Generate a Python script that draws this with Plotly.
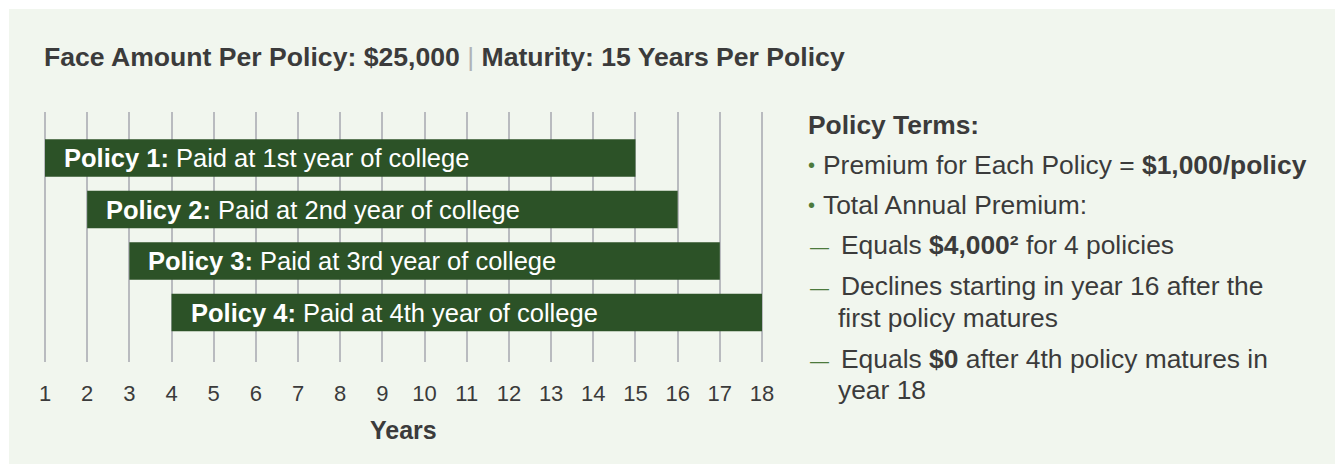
import plotly.graph_objects as go

W, H = 1335, 464

# ---- data ----
policies = ["Policy 1:", "Policy 2:", "Policy 3:", "Policy 4:"]
policy_desc = ["Paid at 1st year of college", "Paid at 2nd year of college",
               "Paid at 3rd year of college", "Paid at 4th year of college"]
start_year = [1, 2, 3, 4]
end_year = [15, 16, 17, 18]
year_ticks = list(range(1, 19))
title_left = "Face Amount Per Policy: $25,000"
title_right = "Maturity: 15 Years Per Policy"
x_title = "Years"
terms_heading = "Policy Terms:"
terms_lines = [
    ("•", "Premium for Each Policy = <b>$1,000/policy</b>"),
    ("•", "Total Annual Premium:"),
    ("—", "Equals <b>$4,000²</b> for 4 policies"),
    ("—", "Declines starting in year 16 after the"),
    ("", "first policy matures"),
    ("—", "Equals <b>$0</b> after 4th policy matures in"),
    ("", "year 18"),
]

# ---- style ----
PANEL = "#f1f6ee"
BAR = "#2c5227"
GRID = "#b9bbbf"
TXT = "#3b3b3b"
ACCENT = "#4c7a3c"
FONT = "Liberation Sans, Arial, Helvetica, sans-serif"


def fx(p):
    return p / W


def fy(p):
    return 1 - p / H


# axis geometry (pixels)
x1_px, x18_px = 45, 762
unit = (x18_px - x1_px) / 17
xr = [0.5, 18.5]
dom_x = [fx(x1_px - 0.5 * unit), fx(x18_px + 0.5 * unit)]
grid_top, grid_bot = 112, 362

fig = go.Figure()
fig.add_trace(go.Bar(
    y=[1, 2, 3, 4],
    x=[e - s for s, e in zip(start_year, end_year)],
    base=start_year,
    orientation="h",
    marker=dict(color=BAR, line=dict(width=0)),
    width=0.73,
    hoverinfo="skip",
    showlegend=False,
))

annotations = []
for i, (p, d, s) in enumerate(zip(policies, policy_desc, start_year)):
    annotations.append(dict(
        x=s, y=i + 1, xref="x", yref="y", xanchor="left", yanchor="middle",
        xshift=17, yshift=0, text=f"<b>{p}</b> {d}", showarrow=False,
        font=dict(family=FONT, size=25.5, color="white"),
    ))

# title
annotations.append(dict(
    x=fx(42), y=fy(57), xref="paper", yref="paper", xanchor="left", yanchor="middle",
    text=f"<b>{title_left}</b> <span style='color:#b0b3b6'>|</span> <b>{title_right}</b>",
    showarrow=False, font=dict(family=FONT, size=26.6, color=TXT),
))

# policy terms
annotations.append(dict(
    x=fx(806), y=fy(125), xref="paper", yref="paper", xanchor="left", yanchor="middle",
    text=f"<b>{terms_heading}</b>", showarrow=False,
    font=dict(family=FONT, size=26.4, color=TXT),
))
line_y = [165, 205, 245, 286, 318, 359, 390]
for (mark, txt), yy in zip(terms_lines, line_y):
    if mark == "•":
        annotations.append(dict(
            x=fx(806), y=fy(yy), xref="paper", yref="paper", xanchor="left", yanchor="middle",
            text=mark, showarrow=False, font=dict(family=FONT, size=20, color=ACCENT)))
        tx = 821
    elif mark == "—":
        annotations.append(dict(
            x=fx(808), y=fy(yy + 1), xref="paper", yref="paper", xanchor="left", yanchor="middle",
            text=mark, showarrow=False, font=dict(family=FONT, size=19, color=ACCENT)))
        tx = 839
    else:
        tx = 836
    annotations.append(dict(
        x=fx(tx), y=fy(yy), xref="paper", yref="paper", xanchor="left", yanchor="middle",
        text=txt, showarrow=False, font=dict(family=FONT, size=26.4, color=TXT)))

# x title
annotations.append(dict(
    x=(x1_px + x18_px) / 2 / W, y=fy(430), xref="paper", yref="paper",
    xanchor="center", yanchor="middle", text=f"<b>{x_title}</b>", showarrow=False,
    font=dict(family=FONT, size=25, color=TXT)))

# white outer strips (top and left); the paper itself is the panel colour
shapes = [
    dict(type="rect", xref="paper", yref="paper", x0=-0.01, x1=1.01, y0=fy(9), y1=1.01,
         fillcolor="white", line=dict(width=0), layer="below"),
    dict(type="rect", xref="paper", yref="paper", x0=-0.01, x1=fx(9), y0=-0.01, y1=1.01,
         fillcolor="white", line=dict(width=0), layer="below"),
]

fig.update_layout(
    width=W, height=H,
    margin=dict(l=0, r=0, t=0, b=0),
    paper_bgcolor=PANEL,
    plot_bgcolor="rgba(0,0,0,0)",
    showlegend=False,
    annotations=annotations,
    shapes=shapes,
    xaxis=dict(
        domain=dom_x, range=xr, tickmode="array", tickvals=year_ticks,
        ticktext=[str(t) for t in year_ticks], showgrid=True, gridcolor=GRID, gridwidth=2,
        zeroline=False, showline=False, ticks="outside", ticklen=12, tickcolor="rgba(0,0,0,0)",
        tickfont=dict(family=FONT, size=22, color=TXT), fixedrange=True,
    ),
    yaxis=dict(
        domain=[fy(grid_bot), fy(grid_top)], range=[4.961, 0.107], visible=False,
        showgrid=False, zeroline=False, fixedrange=True,
    ),
)

fig.write_html(
    "out.html",
    config={"displayModeBar": False},
    post_script=(
        "document.documentElement.style.overflow='hidden';"
        "document.documentElement.style.background='" + PANEL + "';"
        "document.body.style.margin='0';document.body.style.overflow='hidden';"
    ),
)
